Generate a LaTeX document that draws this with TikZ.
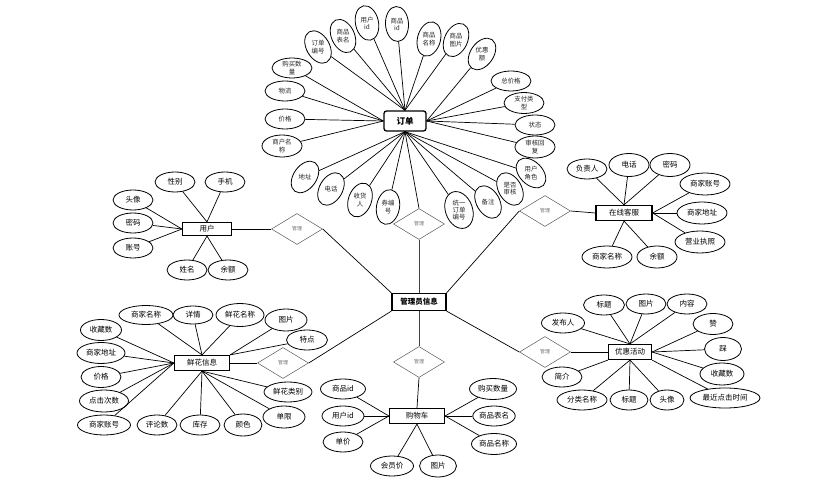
\documentclass[tikz,border=0pt]{standalone}
\usepackage{fontspec}
\newfontfamily\cjk{Noto Sans CJK SC}
\usetikzlibrary{shapes.geometric}
\begin{document}
\begin{tikzpicture}[x=1pt,y=-1pt,
 every node/.style={font=\cjk\fontsize{7.5}{8.5}\selectfont},
 attr/.style={ellipse,draw,line width=0.8pt,minimum width=40pt,minimum height=20pt,inner sep=0pt,align=center,fill=white},
 oattr/.style={attr,font=\cjk\fontsize{6.4}{7.2}\selectfont,text=black!85},
 vattr/.style={oattr,minimum width=23pt,minimum height=35pt},
 otext/.style={inner sep=0pt,align=center,font=\cjk\fontsize{6.4}{7.2}\selectfont,text=black!85},
 ent/.style={draw,line width=1.2pt,minimum width=54pt,minimum height=14pt,inner sep=1pt,fill=white,font=\cjk\fontsize{7.5}{8.5}\selectfont},
 rel/.style={diamond,draw=black!65,line width=0.5pt,aspect=1.65,minimum width=51pt,minimum height=31pt,inner sep=0pt,fill=white,font=\cjk\fontsize{5}{5}\selectfont,text=black!55},
 conn/.style={line width=0.7pt}]
\useasboundingbox (0,0) rectangle (836,481);

% ---------- order ----------
\node[ent,rounded corners=2.5pt,line width=1.3pt,minimum width=42pt,minimum height=20pt,font=\cjk\bfseries\fontsize{8.5}{9}\selectfont] (o) at (405,121) {订单};
\node[oattr] (o1) at (292,68) {购买数\\量};
\node[oattr] (o2) at (285,91) {物流};
\node[oattr] (o3) at (285,119) {价格};
\node[oattr,minimum height=22pt] (o4) at (282,146) {商户名\\称};
\node[vattr,rotate=-35] (o5) at (305,177) {};
\node[otext] (t5) at (o5) {地址};
\node[vattr,rotate=-30] (o6) at (331,189) {};
\node[otext] (t6) at (o6) {电话};
\node[vattr,rotate=-20] (o7) at (360,200) {};
\node[otext] (t7) at (o7) {收货\\人};
\node[vattr,rotate=-10] (o8) at (388,207) {};
\node[otext] (t8) at (o8) {券编\\号};
\node[vattr,rotate=20,minimum height=38pt,minimum width=27pt] (o9) at (459,210) {};
\node[otext] (t9) at (o9) {统一\\订单\\编号};
\node[vattr,rotate=30] (o10) at (488,202) {};
\node[otext] (t10) at (o10) {备注};
\node[vattr,rotate=30] (o11) at (510,189) {};
\node[otext] (t11) at (o11) {是否\\审核};
\node[vattr,rotate=45] (o12) at (531,173) {};
\node[otext] (t12) at (o12) {用户\\角色};
\node[oattr,minimum height=22pt] (o13) at (535,147) {审核回\\复};
\node[oattr] (o14) at (535,125) {状态};
\node[oattr,minimum height=21pt] (o15) at (524,103) {支付类\\型};
\node[oattr] (o16) at (511,81) {总价格};
\node[vattr,rotate=-35] (o17) at (482,54) {};
\node[otext] (t17) at (o17) {优惠\\额};
\node[vattr,rotate=-25] (o18) at (456,40) {};
\node[otext] (t18) at (o18) {商品\\图片};
\node[vattr,rotate=-15] (o19) at (429,39) {};
\node[otext] (t19) at (o19) {商品\\名称};
\node[vattr,rotate=3] (o20) at (397,24) {};
\node[otext] (t20) at (o20) {商品\\id};
\node[vattr,rotate=12] (o21) at (367,23) {};
\node[otext] (t21) at (o21) {用户\\id};
\node[vattr,rotate=25] (o22) at (343,36) {};
\node[otext] (t22) at (o22) {商品\\表名};
\node[vattr,rotate=30] (o23) at (318,47) {};
\node[otext] (t23) at (o23) {订单\\编号};
\foreach \i in {1,...,4} \draw[conn] (o\i) -- (o.west);
\foreach \i in {5,...,12} \draw[conn] (o\i) -- (o.south);
\foreach \i in {13,...,17} \draw[conn] (o\i) -- (o.east);
\foreach \i in {18,...,23} \draw[conn] (o\i) -- (o.north);

% ---------- admin ----------
\node[ent,font=\cjk\bfseries\fontsize{7.5}{8.5}\selectfont,minimum width=54pt,minimum height=17pt] (adm) at (419,302) {管理员信息};
\node[rel] (d1) at (419,224) {管理};
\draw[conn] (o.south) -- (d1.north);
\draw[conn,line width=1pt,black!75] (d1.south) -- (adm.north);

% ---------- user ----------
\node[ent,minimum width=49pt,minimum height=13pt] (u) at (207,229) {用户};
\node[attr] (u1) at (175,182) {性别};
\node[attr] (u2) at (225,182) {手机};
\node[attr] (u3) at (133,200) {头像};
\node[attr] (u4) at (133,223) {密码};
\node[attr] (u5) at (133,248) {账号};
\node[attr] (u6) at (187,270) {姓名};
\node[attr] (u7) at (228,270) {余额};
\foreach \i in {1,2} \draw[conn] (u\i) -- (u.north);
\foreach \i in {3,4,5} \draw[conn] (u\i) -- (u.west);
\foreach \i in {6,7} \draw[conn] (u\i) -- (u.south);
\node[rel] (d2) at (297,229) {管理};
\draw[conn] (u.east) -- (d2.west);
\draw[conn] (d2.east) -- (adm.north west);

% ---------- service ----------
\node[ent,minimum width=56pt,minimum height=15pt] (s) at (624,213) {在线客服};
\node[attr] (s1) at (587,169) {负责人};
\node[attr,minimum height=23pt] (s2) at (629,165) {电话};
\node[attr,minimum height=23pt] (s3) at (670,165) {密码};
\node[attr,minimum width=50pt,minimum height=22pt] (s4) at (705,184) {商家账号};
\node[attr,minimum width=50pt,minimum height=22pt] (s5) at (702,213) {商家地址};
\node[attr,minimum width=50pt,minimum height=22pt] (s6) at (700,242) {营业执照};
\node[attr,minimum width=50pt,minimum height=22pt] (s7) at (607,257) {商家名称};
\node[attr,minimum height=22pt] (s8) at (657,257) {余额};
\foreach \i in {1,2,3} \draw[conn] (s\i) -- (s.north);
\foreach \i in {4,5,6} \draw[conn] (s\i) -- (s.east);
\foreach \i in {7,8} \draw[conn] (s\i) -- (s.south);
\node[rel] (d3) at (545,211) {管理};
\draw[conn] (d3.east) -- (s.west);
\draw[conn] (adm.north east) -- (d3.west);

% ---------- flower ----------
\node[ent,minimum width=55pt,minimum height=15pt] (f) at (202,363) {鲜花信息};
\node[attr,minimum width=54pt,minimum height=19pt] (f1) at (146,315) {商家名称};
\node[attr,minimum height=18pt] (f2) at (193,315) {详情};
\node[attr,minimum width=48pt,minimum height=23pt] (f3) at (240,315) {鲜花名称};
\node[attr,minimum width=42pt,minimum height=22pt] (f4) at (286,320) {图片};
\node[attr,minimum width=41pt] (f5) at (307,340) {特点};
\node[attr,minimum width=41pt,minimum height=21pt] (f6) at (101,330) {收藏数};
\node[attr,minimum width=48pt,minimum height=21pt] (f7) at (101,353) {商家地址};
\node[attr,minimum height=21pt] (f8) at (101,377) {价格};
\node[attr,minimum width=49pt,minimum height=22pt] (f9) at (104,401) {点击次数};
\node[attr,minimum width=53pt] (f10) at (104,425) {商家账号};
\node[attr] (f11) at (157,425) {评论数};
\node[attr] (f12) at (200,425) {库存};
\node[attr,minimum width=38pt,minimum height=22pt] (f13) at (243,425) {颜色};
\node[attr,minimum width=48pt] (f14) at (288,392) {鲜花类别};
\node[attr,minimum width=42pt,minimum height=22pt] (f15) at (284,417) {单限};
\foreach \i in {1,2,3} \draw[conn] (f\i) -- (f.north);
\foreach \i in {4,5} \draw[conn] (f\i) -- (f.north east);
\foreach \i in {6,...,10} \draw[conn] (f\i) -- (f.west);
\foreach \i in {11,...,15} \draw[conn] (f\i) -- (f.south);
\node[rel] (d4) at (283,363) {管理};
\draw[conn] (f.east) -- (d4.west);
\draw[conn] (adm.south west) -- (d4.east);

% ---------- promotion ----------
\node[ent,minimum width=43pt,minimum height=15pt] (p) at (630,352) {优惠活动};
\node[attr,minimum width=43pt] (p1) at (563,323) {发布人};
\node[attr,minimum width=41pt] (p2) at (604,305) {标题};
\node[attr] (p3) at (646,304) {图片};
\node[attr] (p4) at (687,304) {内容};
\node[attr,minimum height=21pt] (p5) at (713,324) {赞};
\node[attr,minimum width=37pt,minimum height=23pt] (p6) at (723,349) {踩};
\node[attr,minimum width=44pt,minimum height=22pt] (p7) at (722,374) {收藏数};
\node[attr,minimum width=70pt] (p8) at (725,398) {最近点击时间};
\node[attr,minimum width=34pt] (p9) at (667,400) {头像};
\node[attr,minimum width=38pt] (p10) at (629,400) {标题};
\node[attr,minimum width=50pt] (p11) at (582,400) {分类名称};
\node[attr] (p12) at (562,377) {简介};
\foreach \i in {1,...,4} \draw[conn] (p\i) -- (p.north);
\foreach \i in {5,6,7} \draw[conn] (p\i) -- (p.east);
\draw[conn] (p8) -- (p.south east);
\foreach \i in {9,10,11} \draw[conn] (p\i) -- (p.south);
\draw[conn] (p12) -- (p.south west);
\node[rel] (d5) at (545,352) {管理};
\draw[conn] (d5.east) -- (p.west);
\draw[conn] (adm.south east) -- (d5.west);

% ---------- cart ----------
\node[ent,minimum width=55pt,minimum height=15pt] (c) at (417,416) {购物车};
\node[attr,minimum width=45pt] (c1) at (343,389) {商品id};
\node[attr,minimum width=42pt] (c2) at (343,416) {用户id};
\node[attr] (c3) at (343,442) {单价};
\node[attr,minimum width=43pt] (c4) at (392,466) {会员价};
\node[attr,minimum width=37pt,minimum height=22pt] (c5) at (438,466) {图片};
\node[attr,minimum width=47pt,minimum height=21pt] (c6) at (493,389) {购买数量};
\node[attr,minimum width=42pt] (c7) at (494,416) {商品表名};
\node[attr,minimum width=45pt,minimum height=21pt] (c8) at (494,444) {商品名称};
\foreach \i in {1,2,3} \draw[conn] (c\i) -- (c.west);
\foreach \i in {4,5} \draw[conn] (c\i) -- (c.south);
\foreach \i in {6,7,8} \draw[conn] (c\i) -- (c.east);
\node[rel] (d6) at (419,362) {管理};
\draw[conn,line width=1pt,black!75] (adm.south) -- (d6.north);
\draw[conn] (d6.south) -- (c.north);
\end{tikzpicture}
\end{document}
